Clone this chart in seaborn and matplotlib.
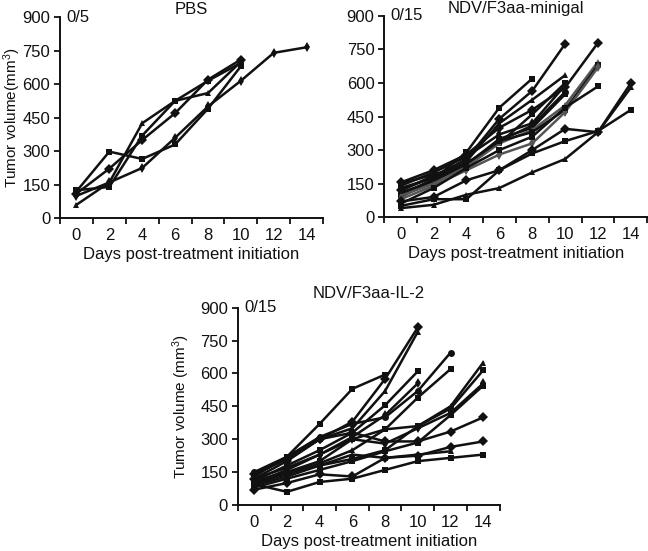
import numpy as np
import pandas as pd
import matplotlib
matplotlib.use("Agg")
import matplotlib.pyplot as plt
import seaborn as sns

sns.set_theme(style="white")
plt.rcParams['font.family'] = ['Liberation Sans', 'DejaVu Sans']
plt.rcParams['mathtext.fontset'] = 'custom'
plt.rcParams['mathtext.rm'] = 'Liberation Sans'
plt.rcParams['mathtext.it'] = 'Liberation Sans'

days = [0, 2, 4, 6, 8, 10, 12, 14]
xticklabels = ["0", "2", "4", "6", "8", "10", "12", "14"]
yticks = [0, 150, 300, 450, 600, 750, 900]

titles = ["PBS", "NDV/F3aa-minigal", "NDV/F3aa-IL-2"]
counts = ["0/5", "0/15", "0/15"]
ylabels = ["Tumor volume(mm$^3$)", "", "Tumor volume (mm$^3$)"]
xlabel = "Days post-treatment initiation"

# PBS group (5 mice)
pbs = [
    [120, 298, 265, 330, 490, 680],
    [110, 222, 350, 470, 620, 710],
    [60, 160, 425, 525, 560, 700],
    [125, 140, 370, 525, 615, 695],
    [100, 160, 225, 360, 500, 615, 740, 765],
]

# NDV/F3aa-minigal group (15 mice)
minigal = [
    [100, 170, 290, 490, 620],
    [120, 180, 260, 440, 565, 775],
    [90, 165, 250, 420, 525, 635],
    [150, 190, 240, 330, 460, 600],
    [140, 200, 270, 370, 420, 590],
    [130, 175, 230, 340, 410, 560],
    [110, 160, 235, 350, 400, 550],
    [155, 210, 280, 400, 480, 580, 780],
    [95, 150, 225, 330, 390, 500, 695],
    [120, 185, 240, 340, 380, 480, 680],
    [80, 140, 210, 280, 330, 470, 670],
    [60, 130, 220, 300, 360, 490, 585],
    [70, 90, 165, 210, 300, 395, 380, 600],
    [50, 80, 80, 210, 285, 340, 385, 480],
    [40, 55, 100, 130, 200, 260, 380, 580],
]

# NDV/F3aa-IL-2 group (15 mice)
il2 = [
    [130, 220, 370, 530, 595],
    [120, 200, 300, 380, 575, 810],
    [140, 210, 300, 350, 520, 790],
    [110, 180, 250, 330, 455, 610],
    [100, 160, 230, 310, 410, 555],
    [150, 220, 310, 370, 400, 520, 695],
    [90, 150, 200, 300, 345, 490, 620],
    [140, 210, 300, 330, 290, 290, 335, 400],
    [100, 140, 190, 250, 345, 360, 450, 650],
    [90, 130, 180, 210, 250, 360, 440, 615],
    [120, 170, 230, 300, 280, 350, 420, 555],
    [80, 120, 160, 200, 245, 285, 410, 545],
    [70, 100, 140, 130, 215, 225, 265, 290],
    [95, 60, 105, 120, 160, 200, 215, 230],
    [110, 150, 180, 230, 215, 230, 245],
]

groups = [pbs, minigal, il2]
gray_lines = [[], [8, 10], []]

marker_cycle = ['s', 'D', '^', 's', 'd', 'o', 's', 'D', '^', 's', 'd', 's', 'D', 's', '^']

fig = plt.figure(figsize=(6.48, 5.51), dpi=100)
positions = [
    [0.0926, 0.604, 0.406, 0.365],
    [0.593, 0.606, 0.406, 0.365],
    [0.367, 0.0835, 0.404, 0.358],
]
title_pads = [2, 2, 7]
ylabel_x = [-0.140, None, -0.176]
fs = 12

for gi, (group, pos) in enumerate(zip(groups, positions)):
    ax = fig.add_axes(pos)
    rows = []
    for mi, vals in enumerate(group):
        for d, v in zip(days, vals):
            rows.append({"day": d, "vol": v, "mouse": f"m{mi}"})
    df = pd.DataFrame(rows)
    mice = [f"m{i}" for i in range(len(group))]
    palette = {m: ('#555555' if i in gray_lines[gi] else '#111111') for i, m in enumerate(mice)}
    markers = {m: marker_cycle[i % len(marker_cycle)] for i, m in enumerate(mice)}
    sns.lineplot(data=df, x="day", y="vol", hue="mouse", style="mouse",
                 palette=palette, markers=markers, dashes=False,
                 linewidth=1.8, markersize=5, markeredgewidth=0,
                 legend=False, ax=ax, sort=False)
    ax.set_xlim(-1, 15)
    ax.set_ylim(0, 900)
    ax.set_yticks(yticks)
    ax.set_xticks(days)
    ax.set_xticklabels(xticklabels)
    ax.set_xticks(np.arange(-1, 16, 2), minor=True)
    ax.tick_params(axis='x', which='major', length=0, pad=7, labelsize=fs, colors='#111111')
    ax.tick_params(axis='x', which='minor', length=4, width=1.3, color='#111111', direction='out',
                   bottom=True)
    ax.tick_params(axis='y', which='major', length=4, width=1.3, pad=3, labelsize=fs,
                   color='#111111', labelcolor='#111111', direction='out', left=True)
    for s in ['top', 'right']:
        ax.spines[s].set_visible(False)
    for s in ['left', 'bottom']:
        ax.spines[s].set_color('#111111')
        ax.spines[s].set_linewidth(1.4)
    ax.set_xlabel(xlabel, fontsize=fs, color='#111111', labelpad=3)
    ax.set_ylabel(ylabels[gi], fontsize=11, color='#111111')
    if ylabel_x[gi] is not None:
        ax.yaxis.set_label_coords(ylabel_x[gi], 0.5)
    ax.set_title(titles[gi], fontsize=fs, color='#111111', pad=title_pads[gi])
    ax.text(0.025, 1.0, counts[gi], transform=ax.transAxes, fontsize=fs,
            color='#111111', va='center', ha='left')
    ax.set_facecolor('white')

fig.savefig("out.png", dpi=100, facecolor='white')
